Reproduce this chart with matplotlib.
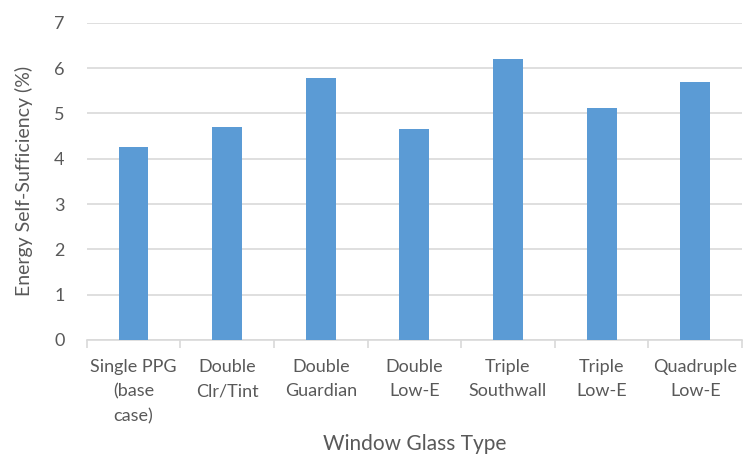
import matplotlib
matplotlib.use("Agg")
import matplotlib.pyplot as plt
import numpy as np

categories = [
    "Single PPG\n(base\ncase)",
    "Double\nClr/Tint",
    "Double\nGuardian",
    "Double\nLow-E",
    "Triple\nSouthwall",
    "Triple\nLow-E",
    "Quadruple\nLow-E",
]
values = [4.25, 4.71, 5.79, 4.66, 6.20, 5.12, 5.69]
y_ticks = [0, 1, 2, 3, 4, 5, 6, 7]

plt.rcParams["font.family"] = ["Lato", "DejaVu Sans"]
text_color = "#595959"
grid_color = "#D9D9D9"
bar_color = "#5B9BD5"

fig = plt.figure(figsize=(7.43, 4.59), dpi=100)
ax = fig.add_axes([0.1167, 0.2593, 0.8820, 0.6912])

x = np.arange(len(categories))
ax.bar(x, values, width=0.32, color=bar_color, zorder=3)

ax.set_xlim(-0.5, len(categories) - 0.5)
ax.set_ylim(0, 7)
ax.set_yticks(y_ticks)
ax.yaxis.grid(True, color=grid_color, linewidth=1.2, zorder=0)
ax.tick_params(axis="y", length=0, pad=16, labelsize=13, labelcolor=text_color)

ax.set_xticks(x)
ax.set_xticklabels(categories, fontsize=13, color=text_color, linespacing=1.62)
ax.set_xticks(np.arange(len(categories) + 1) - 0.5, minor=True)
ax.tick_params(axis="x", which="major", length=0, pad=14)
ax.tick_params(axis="x", which="minor", length=6, color=grid_color, width=1.2)

for side in ["top", "right", "left"]:
    ax.spines[side].set_visible(False)
ax.spines["bottom"].set_color(grid_color)
ax.spines["bottom"].set_linewidth(1.2)

ax.set_ylabel("Energy Self-Sufficiency (%)", fontsize=14, color=text_color, labelpad=15)
ax.set_xlabel("Window Glass Type", fontsize=15, color=text_color, labelpad=7)

fig.savefig("out.png", dpi=100)
